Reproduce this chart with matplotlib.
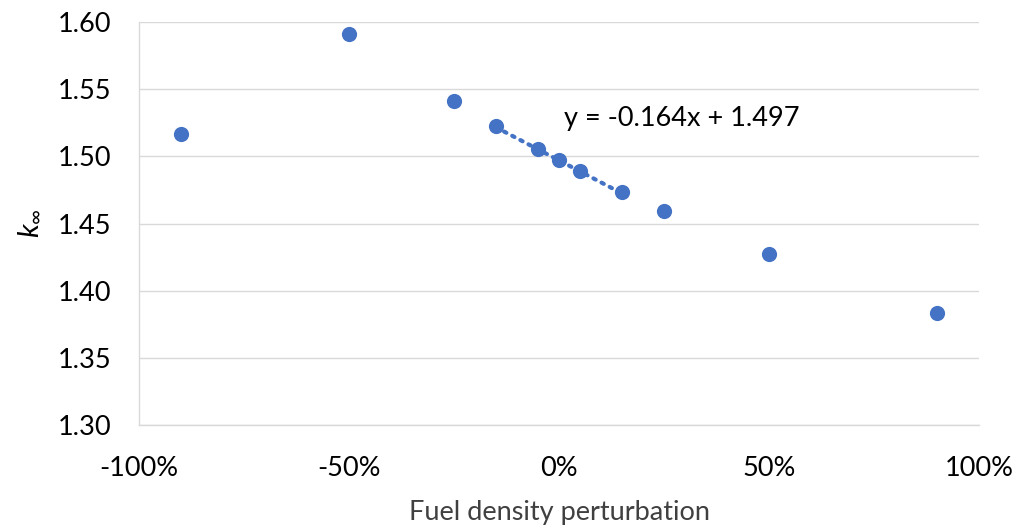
import numpy as np
import matplotlib.pyplot as plt
from matplotlib.ticker import PercentFormatter, MultipleLocator

plt.rcParams['font.family'] = ['Lato', 'DejaVu Sans']
plt.rcParams['mathtext.fontset'] = 'custom'
plt.rcParams['mathtext.it'] = 'Lato:italic'
plt.rcParams['mathtext.rm'] = 'Lato'
plt.rcParams['axes.unicode_minus'] = False

# Data
perturbation = [-0.90, -0.50, -0.25, -0.15, -0.05, 0.00, 0.05, 0.15, 0.25, 0.50, 0.90]
k_inf = [1.5166, 1.5911, 1.5412, 1.5226, 1.5055, 1.4973, 1.4891, 1.4734, 1.4593, 1.4273, 1.3834]
fit_range = (-0.15, 0.15)
fit_slope = -0.164
fit_intercept = 1.497

blue = "#4472C4"
grid_grey = "#D9D9D9"
fs = 19.5

fig = plt.figure(figsize=(10.2, 5.29), dpi=100)
ax = fig.add_axes([0.1363, 0.1966, 0.8235, 0.7618])

x = np.array(perturbation)
y = np.array(k_inf)

# Linear trendline over the central points
xf = np.array(fit_range)
ax.plot(xf, fit_slope * xf + fit_intercept, linestyle=(0, (0.6, 1.6)), color=blue,
        linewidth=3, dash_capstyle="round", zorder=2)

ax.scatter(x, y, s=120, color=blue, zorder=3, linewidths=0)

ax.text(0.012, 1.5285, f"y = {fit_slope:.3f}x + {fit_intercept:.3f}", fontsize=fs,
        va="center", ha="left", color="black")

ax.set_xlim(-1, 1)
ax.set_ylim(1.30, 1.60)
ax.xaxis.set_major_locator(MultipleLocator(0.5))
ax.yaxis.set_major_locator(MultipleLocator(0.05))
ax.xaxis.set_major_formatter(PercentFormatter(1.0, decimals=0))
ax.yaxis.set_major_formatter(plt.FuncFormatter(lambda v, p: f"{v:.2f}"))

ax.grid(axis="y", color=grid_grey, linewidth=1)
ax.set_axisbelow(True)
for side in ["top", "right"]:
    ax.spines[side].set_visible(False)
for side in ["left", "bottom"]:
    ax.spines[side].set_color(grid_grey)
    ax.spines[side].set_linewidth(1)

ax.tick_params(length=0, labelsize=fs, colors="black")
ax.tick_params(axis="x", pad=22)
ax.tick_params(axis="y", pad=20)

ax.set_xlabel("Fuel density perturbation", fontsize=fs, color="#404040", labelpad=14)
ax.set_ylabel(r"$k_{\infty}$", fontsize=21)
ax.yaxis.set_label_coords(-0.116, 0.5)

fig.savefig("out.png", dpi=100)
